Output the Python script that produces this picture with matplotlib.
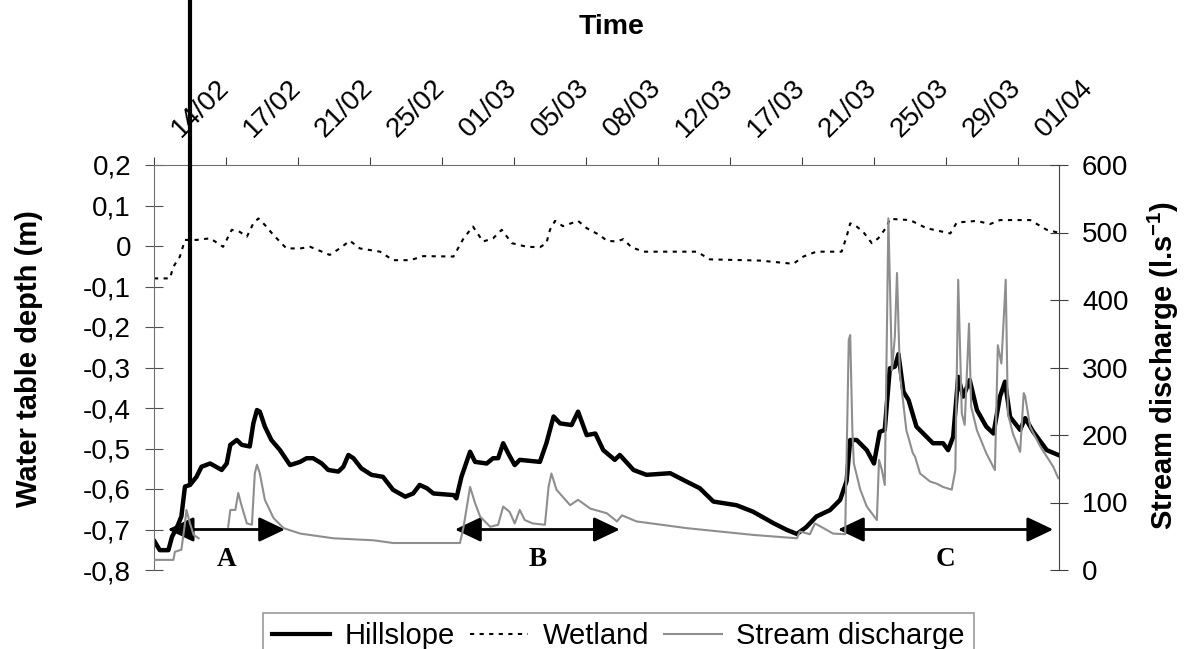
import numpy as np
import matplotlib
matplotlib.use("Agg")
import matplotlib.pyplot as plt
from matplotlib import transforms
from matplotlib.lines import Line2D

plt.rcParams["font.family"] = ["Liberation Sans", "DejaVu Sans"]
plt.rcParams["mathtext.default"] = "regular"

# --- data -----------------------------------------------------------------
# x = record number, one date label every 100 records (category axis)
date_labels = ["14/02", "17/02", "21/02", "25/02", "01/03", "05/03", "08/03",
               "12/03", "17/03", "21/03", "25/03", "29/03", "01/04"]
n_records = 1257

hill_rec = [1, 8, 20, 25, 32, 38, 43, 50, 59, 66, 78, 94, 101, 106, 115, 122,
            133, 138, 143, 147, 154, 163, 175, 189, 203, 212, 221, 233, 242,
            256, 263, 270, 277, 288, 302, 318, 332, 349, 360, 369, 379, 388,
            416, 420, 427, 439, 446, 462, 471, 478, 485, 492, 501, 508, 536,
            545, 555, 564, 580, 589, 601, 613, 624, 640, 647, 666, 684, 717,
            740, 758, 777, 809, 832, 860, 879, 893, 906, 920, 939, 953, 962,
            967, 976, 990, 1000, 1008, 1015, 1022, 1029, 1034, 1041, 1048,
            1059, 1073, 1082, 1096, 1103, 1110, 1117, 1124, 1133, 1143, 1156,
            1166, 1175, 1182, 1189, 1203, 1210, 1221, 1240, 1256]
hill_depth = [-0.730, -0.751, -0.751, -0.718, -0.694, -0.668, -0.594, -0.590,
              -0.570, -0.545, -0.537, -0.553, -0.537, -0.491, -0.479, -0.491,
              -0.495, -0.438, -0.405, -0.409, -0.446, -0.479, -0.504, -0.541,
              -0.533, -0.524, -0.524, -0.537, -0.553, -0.557, -0.545, -0.516,
              -0.524, -0.549, -0.565, -0.570, -0.602, -0.619, -0.611, -0.590,
              -0.598, -0.611, -0.615, -0.623, -0.570, -0.508, -0.533, -0.537,
              -0.524, -0.524, -0.487, -0.512, -0.541, -0.528, -0.533, -0.487,
              -0.421, -0.438, -0.442, -0.409, -0.467, -0.463, -0.504, -0.528,
              -0.516, -0.553, -0.565, -0.561, -0.582, -0.598, -0.631, -0.640,
              -0.656, -0.684, -0.701, -0.711, -0.694, -0.668, -0.652, -0.627,
              -0.580, -0.479, -0.479, -0.504, -0.537, -0.459, -0.454, -0.302,
              -0.298, -0.267, -0.360, -0.380, -0.446, -0.471, -0.487, -0.487,
              -0.504, -0.471, -0.323, -0.372, -0.331, -0.405, -0.446, -0.463,
              -0.372, -0.335, -0.422, -0.454, -0.425, -0.458, -0.504, -0.516]

wet_rec = [0, 22, 27, 36, 43, 59, 78, 96, 108, 119, 129, 138, 145, 154, 166,
           184, 203, 217, 244, 258, 272, 286, 314, 332, 356, 374, 416, 430,
           443, 457, 471, 483, 497, 518, 536, 545, 550, 557, 568, 589, 601,
           619, 629, 643, 652, 663, 680, 754, 772, 842, 888, 902, 920, 955,
           962, 967, 976, 985, 997, 1006, 1018, 1022, 1050, 1073, 1106, 1115,
           1143, 1161, 1175, 1217, 1240, 1256]
wet_depth = [-0.080, -0.080, -0.051, -0.026, 0.015, 0.015, 0.019, -0.002,
             0.040, 0.035, 0.023, 0.056, 0.068, 0.052, 0.027, -0.006, -0.006,
             -0.002, -0.022, -0.006, 0.013, -0.006, -0.014, -0.035, -0.035,
             -0.025, -0.026, 0.019, 0.048, 0.011, 0.019, 0.040, 0.007, -0.002,
             -0.003, 0.007, 0.040, 0.062, 0.049, 0.062, 0.044, 0.027, 0.013,
             0.011, 0.017, -0.003, -0.014, -0.014, -0.033, -0.036, -0.044,
             -0.026, -0.014, -0.014, 0.023, 0.056, 0.048, 0.035, 0.007, 0.019,
             0.048, 0.067, 0.064, 0.044, 0.031, 0.058, 0.062, 0.054, 0.064,
             0.064, 0.040, 0.033]

q_rec = [0, 27, 29, 38, 43, 45, 50, 55, 62, 80, 103, 106, 113, 117, 122, 129,
         136, 140, 143, 147, 154, 166, 180, 203, 249, 305, 332, 425, 430, 439,
         446, 453, 467, 478, 485, 494, 501, 508, 515, 526, 543, 548, 552, 559,
         578, 589, 606, 629, 643, 650, 670, 740, 832, 893, 897, 911, 918, 930,
         943, 960, 965, 967, 970, 972, 981, 990, 1004, 1007, 1011, 1015, 1018,
         1020, 1025, 1029, 1032, 1036, 1045, 1054, 1057, 1064, 1078, 1087,
         1096, 1108, 1113, 1117, 1122, 1126, 1132, 1135, 1143, 1156, 1168,
         1172, 1177, 1183, 1186, 1193, 1203, 1208, 1210, 1217, 1231, 1249, 1256]
q_val = [15, 15, 27, 30, 69, 89, 69, 52, 47, np.nan, 64, 89, 89, 114, 94, 69,
         67, 143, 156, 143, 104, 77, 62, 54, 47, 44, 40, 40, 64, 123, 99, 79,
         64, 67, 94, 86, 69, 89, 74, 69, 67, 123, 143, 119, 96, 104, 91, 84, 72,
         81, 72, 62, 52, 47, 57, 53, 69, 62, 54, 53, 341, 348, 207, 158, 119,
         94, 74, 163, 148, 126, 356, 521, 296, 346, 440, 291, 207, 173, 168,
         143, 131, 128, 123, 119, 148, 430, 232, 215, 365, 242, 207, 173, 148,
         333, 306, 430, 232, 202, 175, 262, 257, 212, 183, 153, 136]

period_names = ["A", "B", "C"]
period_start = [19, 418, 950]
period_end = [182, 647, 1249]

# --- figure ---------------------------------------------------------------
W, H = 1189, 649
fig = plt.figure(figsize=(W / 100, H / 100), dpi=100)
ax = fig.add_axes([154 / W, 1 - 570 / H, 905 / W, 405 / H])
ax2 = ax.twinx()

spine_col = "#707070"
dots = (0, (2, 2.6))
ax.plot(hill_rec, hill_depth, color="black", lw=3.2, solid_joinstyle="round")
ax.plot(wet_rec, wet_depth, color="black", lw=1.5, linestyle=dots)
ax2.plot(q_rec, q_val, color="#8e8e8e", lw=1.5)

ax.set_xlim(0, n_records)
ax.set_ylim(-0.8, 0.2)
ax2.set_ylim(0, 600)

# spines
for s in ["bottom", "right"]:
    ax.spines[s].set_visible(False)
for s in ["bottom", "left", "top"]:
    ax2.spines[s].set_visible(False)
ax.spines["left"].set_color(spine_col)
ax.spines["top"].set_color(spine_col)
ax2.spines["right"].set_color("#404040")

# x axis on top: tick marks between categories, labels rotated
ax.xaxis.tick_top()
ax.set_xticks(np.arange(0, n_records, 100))
ax.tick_params(axis="x", which="major", direction="out", length=6,
               color="#404040", labeltop=False, labelbottom=False)
off = transforms.ScaledTranslation(-9 / 100, 27 / 100, fig.dpi_scale_trans)
trans = transforms.blended_transform_factory(ax.transData, ax.transAxes) + off
for i, lab in enumerate(date_labels):
    ax.text(50 + 100 * i, 1.0, lab, transform=trans, rotation=45,
            rotation_mode="anchor", ha="left", va="baseline", fontsize=20)

# y axes
ax.set_yticks(np.round(np.arange(-0.8, 0.21, 0.1), 1))
ax.yaxis.set_major_formatter(
    plt.FuncFormatter(lambda v, p: "0" if abs(v) < 1e-9 else f"{v:.1f}".replace(".", ",")))
ax.tick_params(axis="y", direction="inout", length=13, pad=10, color="#505050",
               labelsize=20)
ax2.set_yticks(np.arange(0, 601, 100))
ax2.tick_params(axis="y", direction="inout", length=13, pad=10, color="#404040",
                labelsize=20)

ax.set_ylabel("Water table depth (m)", fontsize=21, fontweight="bold")
ax.yaxis.set_label_coords(-0.123, 0.523)
ax2.set_ylabel("Stream discharge (l.s$^{-1}$)", fontsize=21, fontweight="bold")
ax2.yaxis.set_label_coords(1.096, 0.506)

fig.text(612 / W, 1 - 27 / H, "Time", fontsize=20.5, fontweight="bold",
         ha="center", va="center")

# storm periods
for name, x0, x1 in zip(period_names, period_start, period_end):
    ax.annotate("", xy=(x0, -0.7), xytext=(x1, -0.7),
                arrowprops=dict(arrowstyle="<|-|>,head_length=0.8,head_width=0.38",
                                color="black", lw=2, shrinkA=0, shrinkB=0,
                                mutation_scale=20))
    ax.text((x0 + x1) / 2, -0.775, name, ha="center", va="center",
            fontsize=19.5, fontweight="bold", family="Liberation Serif")

# marker of the first day
x_mark = 50
ax.annotate("", xy=(x_mark, np.interp(x_mark, hill_rec, hill_depth)),
            xytext=(x_mark, 1.0), textcoords=("data", "figure fraction"),
            arrowprops=dict(arrowstyle="-", lw=3, color="black",
                            shrinkA=0, shrinkB=0), annotation_clip=False)

handles = [Line2D([], [], color="black", lw=3),
           Line2D([], [], color="black", lw=1.5, linestyle=dots),
           Line2D([], [], color="#8e8e8e", lw=1.5)]
leg = fig.legend(handles, ["Hillslope", "Wetland", "Stream discharge"],
                 loc="upper left", bbox_to_anchor=(263 / W, 1 - 613 / H),
                 ncol=3, fontsize=21, frameon=True, fancybox=False,
                 edgecolor="#808080", handlelength=2.0, handletextpad=0.5,
                 columnspacing=0.5, borderpad=0.3, borderaxespad=0)
leg.get_frame().set_linewidth(1.2)

fig.savefig("out.png", dpi=100)
